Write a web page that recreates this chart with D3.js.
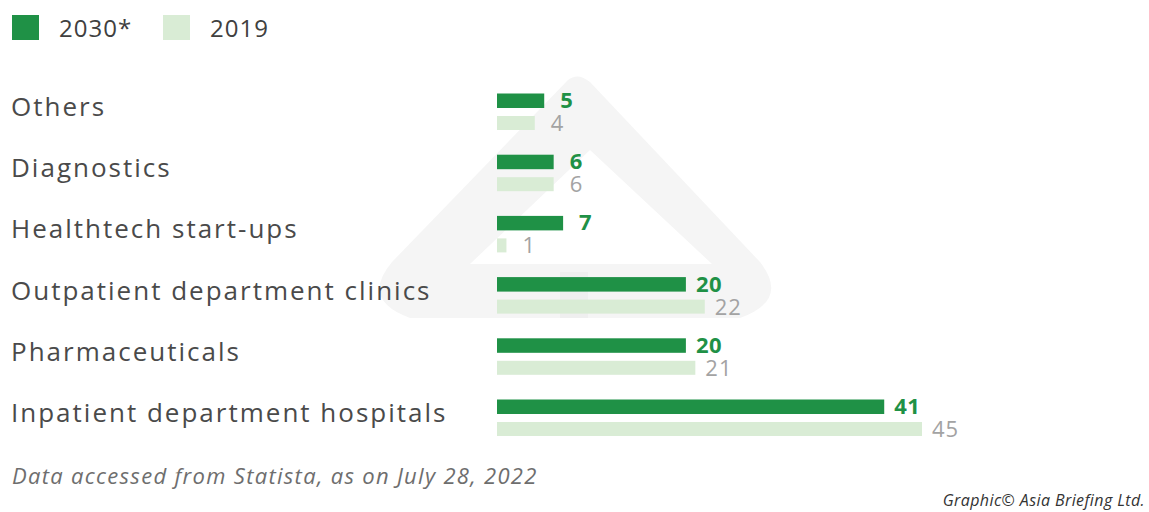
<!DOCTYPE html>
<html>
<head>
<meta charset="utf-8">
<script src="https://cdn.jsdelivr.net/npm/d3@7"></script>
<style>
  body { margin: 0; background: #fff; }
  svg { display: block; font-family: "Open Sans", "Noto Sans", sans-serif; }
</style>
</head>
<body>
<div id="chart"></div>
<script>
// data
var categories = [
    "Others",
    "Diagnostics",
    "Healthtech start-ups",
    "Outpatient department clinics",
    "Pharmaceuticals",
    "Inpatient department hospitals"
];
var values2030 = [5, 6, 7, 20, 20, 41];
var values2019 = [4, 6, 1, 22, 21, 45];
var seriesNames = ["2030*", "2019"];
var sourceNote = "Data accessed from Statista, as on July 28, 2022";
var credit = "Graphic\u00a9 Asia Briefing Ltd.";

var width = 1149, height = 512;
var darkGreen = "#1f9146", lightGreen = "#d9ecd5";

var svg = d3.select("#chart").append("svg")
    .attr("width", width)
    .attr("height", height);

// faint logo watermark behind the bars
var wm = svg.append("g").attr("class", "watermark");
wm.append("path")
    .attr("d", "M568,80 Q578,72 590,82 L760,262 Q790,300 740,318 L410,318 Q360,300 392,262 Z")
    .attr("fill", "#f5f5f5");
wm.append("path")
    .attr("d", "M590,150 L712,264 L470,264 Z")
    .attr("fill", "#ffffff");
wm.append("rect").attr("x", 560).attr("y", 272).attr("width", 28).attr("height", 46).attr("fill", "#efefef");

var x = d3.scaleLinear().domain([0, 45]).range([497, 922]);
var y = d3.scaleBand().domain(categories).range([88, 88 + 6 * 61.2]);

var rows = categories.map(function(c, i) {
    return {cat: c, v2030: values2030[i], v2019: values2019[i]};
});

var g = svg.append("g");

var row = g.selectAll("g.row").data(rows).enter()
    .append("g")
    .attr("class", "row")
    .attr("transform", function(d) { return "translate(0," + y(d.cat) + ")"; });

row.append("text")
    .attr("x", 11)
    .attr("y", 28)
    .attr("font-size", 26)
    .attr("letter-spacing", 2)
    .attr("fill", "#4a4a4a")
    .text(function(d) { return d.cat; });

row.append("rect")
    .attr("x", x(0))
    .attr("y", 5.5)
    .attr("height", 14.5)
    .attr("width", function(d) { return x(d.v2030) - x(0); })
    .attr("fill", darkGreen);

row.append("rect")
    .attr("x", x(0))
    .attr("y", 28)
    .attr("height", 14)
    .attr("width", function(d) { return x(d.v2019) - x(0); })
    .attr("fill", lightGreen);

function labelX(v) { return x(v) + (v < 10 ? 16 : 10); }

row.append("text")
    .attr("x", function(d) { return labelX(d.v2030); })
    .attr("y", 20)
    .attr("font-size", 22)
    .attr("font-weight", 700)
    .attr("letter-spacing", 0.5)
    .attr("fill", darkGreen)
    .text(function(d) { return d.v2030; });

row.append("text")
    .attr("x", function(d) { return labelX(d.v2019); })
    .attr("y", 43)
    .attr("font-size", 22)
    .attr("letter-spacing", 1)
    .attr("fill", "#a3a3a3")
    .text(function(d) { return d.v2019; });

// legend
var legend = svg.append("g");
var legendX = [12, 163];
var legendColors = [darkGreen, lightGreen];
seriesNames.forEach(function(name, i) {
    legend.append("rect")
        .attr("x", legendX[i]).attr("y", 15)
        .attr("width", 27).attr("height", 25)
        .attr("fill", legendColors[i]);
    legend.append("text")
        .attr("x", legendX[i] + 47).attr("y", 37)
        .attr("font-size", 24)
        .attr("letter-spacing", 1)
        .attr("fill", "#404040")
        .text(name);
});

// footer
svg.append("text")
    .attr("x", 12).attr("y", 484)
    .attr("font-size", 22)
    .attr("font-style", "italic")
    .attr("letter-spacing", 1.3)
    .attr("fill", "#6e6e6e")
    .text(sourceNote);

svg.append("text")
    .attr("x", 1145).attr("y", 506)
    .attr("text-anchor", "end")
    .attr("font-size", 16)
    .attr("font-style", "italic")
    .attr("letter-spacing", 0.4)
    .attr("fill", "#333")
    .text(credit);
</script>
</body>
</html>
